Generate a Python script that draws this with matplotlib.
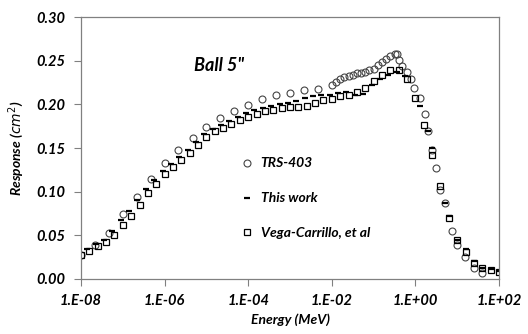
import numpy as np
import matplotlib.pyplot as plt

plt.rcParams['font.family'] = ['Lato', 'DejaVu Sans']

# TRS-403 (circulos): exponentes de energia (log10 MeV) y respuesta (cm2)
trs_logE = [-8.0, -7.67, -7.33, -7.0, -6.67, -6.33, -6.0, -5.67, -5.33, -5.0,
            -4.67, -4.33, -4.0, -3.67, -3.33, -3.0, -2.67, -2.33, -2.0,
            -1.9, -1.8, -1.7, -1.6, -1.5, -1.4, -1.3, -1.2, -1.1, -1.0,
            -0.9, -0.8, -0.7, -0.6, -0.5, -0.44, -0.4,
            -0.33, -0.21, -0.11, -0.03, 0.1, 0.22, 0.29, 0.39, 0.49, 0.59,
            0.7, 0.88, 0.99, 1.19, 1.39, 1.59]
trs_resp = [0.028, 0.039, 0.053, 0.074, 0.094, 0.1145, 0.133, 0.148, 0.162, 0.1745,
            0.184, 0.192, 0.1995, 0.206, 0.2105, 0.213, 0.216, 0.218, 0.2225,
            0.226, 0.229, 0.231, 0.2325, 0.234, 0.236, 0.236, 0.2375, 0.239, 0.241,
            0.245, 0.2485, 0.252, 0.2555, 0.258, 0.258, 0.251,
            0.244, 0.237, 0.229, 0.219, 0.207, 0.189, 0.170, 0.148, 0.1275, 0.102,
            0.087, 0.055, 0.039, 0.025, 0.0126, 0.007]

# Vega-Carrillo (cuadrados)
vega_logE = [-8.0, -7.8, -7.6, -7.4, -7.2, -7.0, -6.8, -6.6, -6.4, -6.2,
             -6.0, -5.8, -5.6, -5.4, -5.2, -5.0, -4.8, -4.6, -4.4, -4.2,
             -4.0, -3.8, -3.6, -3.4, -3.2, -3.0, -2.8, -2.6, -2.4, -2.2,
             -2.0, -1.8, -1.6, -1.4, -1.2, -1.0, -0.8, -0.6, -0.4, -0.2,
             0.0, 0.2, 0.4, 0.6, 0.8, 1.0, 1.2, 1.4, 1.6, 1.8, 2.0]
vega_resp = [0.0275, 0.032, 0.038, 0.042, 0.050, 0.062, 0.072, 0.085, 0.0985, 0.109,
             0.120, 0.128, 0.136, 0.144, 0.153, 0.163, 0.169, 0.173, 0.178, 0.182,
             0.185, 0.1885, 0.192, 0.194, 0.1955, 0.197, 0.1975, 0.1985, 0.201, 0.205,
             0.206, 0.209, 0.211, 0.2145, 0.219, 0.227, 0.2335, 0.239, 0.239, 0.229,
             0.207, 0.176, 0.142, 0.1065, 0.070, 0.0445, 0.031, 0.018, 0.0125, 0.0105, 0.008]

# Este trabajo (guiones)
this_logE = [-8.05, -7.85, -7.65, -7.45, -7.25, -7.05, -6.85, -6.65, -6.45, -6.25,
             -6.05, -5.85, -5.65, -5.45, -5.25, -5.05, -4.85, -4.65, -4.45, -4.25,
             -4.05, -3.85, -3.65, -3.45, -3.25, -3.05, -2.85, -2.65, -2.45, -2.25,
             -2.05, -1.85, -1.65, -1.45, -1.25, -1.05, -0.85, -0.65, -0.45, -0.25,
             0.1, 0.3, 0.4, 0.7, 0.8, 1.0, 1.2, 1.4, 1.6, 1.8, 2.0]
this_resp = [0.030, 0.034, 0.040, 0.045, 0.055, 0.068, 0.078, 0.091, 0.103, 0.113,
             0.124, 0.132, 0.140, 0.148, 0.157, 0.166, 0.172, 0.176, 0.181, 0.186,
             0.190, 0.193, 0.196, 0.198, 0.200, 0.202, 0.204, 0.207, 0.210, 0.211,
             0.211, 0.213, 0.214, 0.211, 0.212, 0.222, 0.229, 0.234, 0.237, 0.233,
             0.198, 0.170, 0.150, 0.087, 0.072, 0.045, 0.034, 0.021, 0.013, 0.011, 0.009]

xticks_exp = [-8, -6, -4, -2, 0, 2]
xtick_labels = ['1.E-08', '1.E-06', '1.E-04', '1.E-02', '1.E+00', '1.E+02']
yticks = [0.00, 0.05, 0.10, 0.15, 0.20, 0.25, 0.30]

fig = plt.figure(figsize=(5.28, 3.34), dpi=100)
ax = fig.add_axes([0.1534, 0.1647, 0.7917, 0.7843])

gray = '#808080'
ax.plot(10.0 ** np.array(trs_logE), trs_resp, 'o', ls='none', ms=5, mfc='none',
        mec='#444444', mew=0.8, label='TRS-403')
ax.plot(10.0 ** np.array(this_logE), this_resp, '_', ls='none', ms=4, mec='black',
        mew=1.6, label='This work')
ax.plot(10.0 ** np.array(vega_logE), vega_resp, 's', ls='none', ms=5, mfc='none',
        mec='black', mew=0.9, label='Vega-Carrillo, et al')

ax.set_xscale('log')
ax.set_xlim(1e-8, 1e2)
ax.set_ylim(0, 0.30)
ax.set_xticks([10.0 ** e for e in xticks_exp])
ax.set_xticklabels(xtick_labels)
ax.xaxis.set_minor_locator(plt.NullLocator())
ax.set_yticks(yticks)
ax.set_yticklabels(['%.2f' % v for v in yticks])

for lab in ax.get_xticklabels() + ax.get_yticklabels():
    lab.set_fontweight('bold')
    lab.set_fontstyle('italic')
    lab.set_fontsize(10.5)
    lab.set_color('black')

ax.tick_params(direction='out', length=5, width=0.8, color=gray, pad=6)
for s in ax.spines.values():
    s.set_color(gray)
    s.set_linewidth(0.9)

ax.set_xlabel('Energy (MeV)', fontsize=10, fontweight='bold', style='italic', labelpad=4)
ax.set_ylabel('Response ($\\mathbf{\\mathit{cm^2}}$)', fontsize=10, fontweight='bold',
              style='italic', labelpad=8)

ax.text(0.27, 0.795, 'Ball 5"', transform=ax.transAxes, fontsize=13,
        fontweight='bold', style='italic')

leg = ax.legend(loc='upper left', bbox_to_anchor=(0.37, 0.485), frameon=False,
                fontsize=10, handlelength=0.8, handletextpad=0.6, labelspacing=1.65,
                borderaxespad=0)
for t in leg.get_texts():
    t.set_fontweight('bold')
    t.set_fontstyle('italic')

fig.savefig('out.png', dpi=100)
